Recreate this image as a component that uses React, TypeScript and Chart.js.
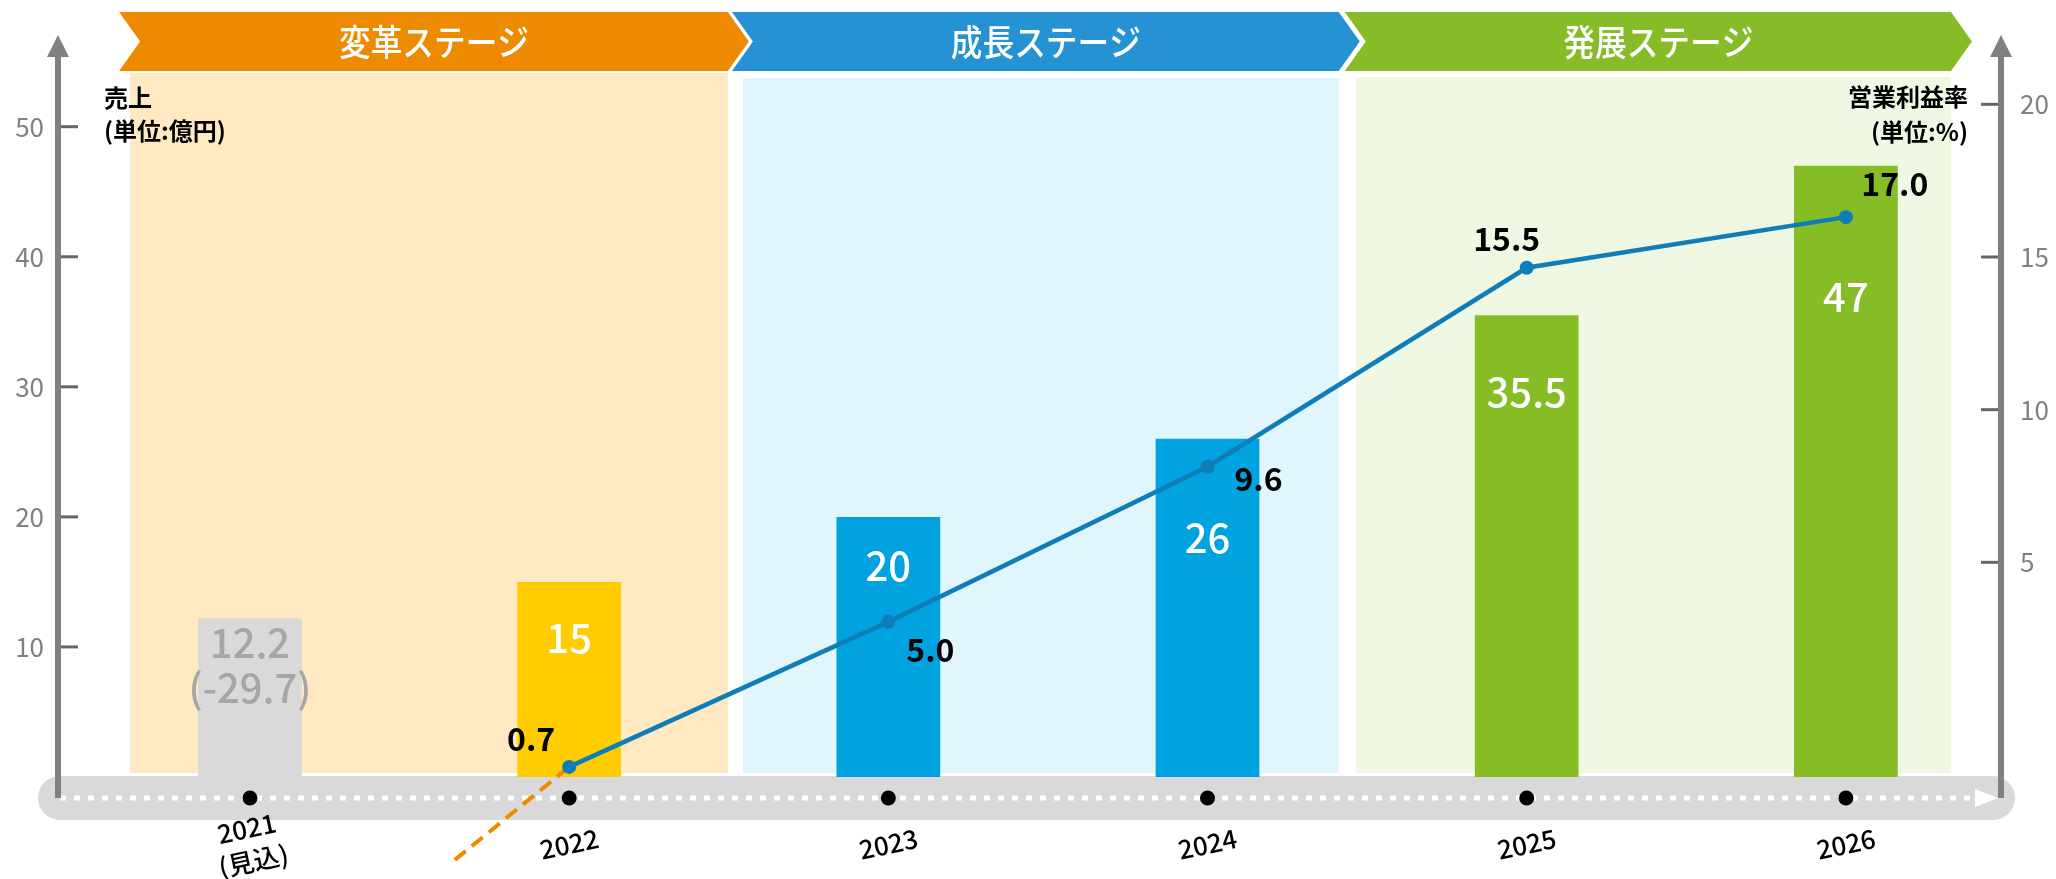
import React, { useEffect, useRef } from 'react';
import { Chart, registerables } from 'chart.js';

Chart.register(...registerables);

const FONT = "'Noto Sans CJK JP', 'Noto Sans', sans-serif";

const categories = ['2021', '2022', '2023', '2024', '2025', '2026'];
const categoryNotes = ['(見込)', '', '', '', '', ''];
const sales = [12.2, 15, 20, 26, 35.5, 47];
const salesLabels = ['12.2', '15', '20', '26', '35.5', '47'];
const salesSubLabels = ['(-29.7)', '', '', '', '', ''];
const margin = [null, 0.7, 5.0, 9.6, 15.5, 17.0];
const marginLabels = ['', '0.7', '5.0', '9.6', '15.5', '17.0'];
const marginTrend = [-7.0, 0.7, null, null, null, null];
const salesTicks = [10, 20, 30, 40, 50];
const marginTicks = [5, 10, 15, 20];
const stageNames = ['変革ステージ', '成長ステージ', '発展ステージ'];

const barColors = ['#D9D9D9', '#FFCC00', '#00A3E0', '#00A3E0', '#86BC25', '#86BC25'];
const barLabelColors = ['#A6A6A6', '#FFFFFF', '#FFFFFF', '#FFFFFF', '#FFFFFF', '#FFFFFF'];

const decorOptions = {
  stageSpans: [[-0.41, 1.563], [1.51, 3.477], [3.43, 5.395]],
  bannerColors: ['#EE8A00', '#2593D3', '#86BC28'],
  panelColors: ['#FEE9C2', '#E1F5FD', '#EFF8E3'],
  panelTops: [73, 78, 77],
  barLabelOffsets: [24, 56, 49, 99, 77, 131],
  lineLabelOffsets: [[0, 0], [-38, -28], [42, 28], [51, 12], [-20, -29], [49, -33]],
};

const decorPlugin = {
  id: 'decor',
  beforeDraw(chart: any) {
    const { ctx, chartArea, scales } = chart;
    const x = scales.x;
    const o = decorOptions;
    ctx.save();
    o.stageSpans.forEach(([a, b], i) => {
      const L = x.getPixelForValue(a);
      const R = x.getPixelForValue(b);
      const top = 12, bot = 71, mid = (top + bot) / 2, d = 21;
      ctx.fillStyle = o.panelColors[i];
      ctx.fillRect(L + 11, o.panelTops[i], R - 21 - (L + 11), chartArea.bottom - 4 - o.panelTops[i]);
      ctx.beginPath();
      ctx.moveTo(L, top);
      ctx.lineTo(R - d, top);
      ctx.lineTo(R, mid);
      ctx.lineTo(R - d, bot);
      ctx.lineTo(L, bot);
      ctx.lineTo(L + d, mid);
      ctx.closePath();
      ctx.fillStyle = o.bannerColors[i];
      ctx.fill();
      ctx.save();
      ctx.translate((L + R) / 2, mid + 1);
      ctx.scale(0.88, 1);
      ctx.fillStyle = '#FFFFFF';
      ctx.font = `500 36px ${FONT}`;
      ctx.textAlign = 'center';
      ctx.textBaseline = 'middle';
      ctx.fillText(stageNames[i], 0, 0);
      ctx.restore();
    });

    const cy = chartArea.bottom + 21;
    const bl = chartArea.left - 20, br = chartArea.right + 14, h = 44, r = 22;
    ctx.fillStyle = '#D9D9D9';
    ctx.beginPath();
    ctx.moveTo(bl + r, cy - h / 2);
    ctx.lineTo(br - r, cy - h / 2);
    ctx.arc(br - r, cy, r, -Math.PI / 2, Math.PI / 2);
    ctx.lineTo(bl + r, cy + h / 2);
    ctx.arc(bl + r, cy, r, Math.PI / 2, Math.PI * 1.5);
    ctx.closePath();
    ctx.fill();

    ctx.strokeStyle = '#FFFFFF';
    ctx.lineWidth = 5;
    ctx.setLineDash([6, 8]);
    ctx.beginPath();
    ctx.moveTo(chartArea.left + 2, cy);
    ctx.lineTo(chartArea.right - 28, cy);
    ctx.stroke();
    ctx.setLineDash([]);
    ctx.fillStyle = '#FFFFFF';
    ctx.beginPath();
    ctx.moveTo(chartArea.right - 26, cy - 9);
    ctx.lineTo(chartArea.right - 3, cy);
    ctx.lineTo(chartArea.right - 26, cy + 9);
    ctx.closePath();
    ctx.fill();

    ctx.fillStyle = '#000000';
    categories.forEach((_, i) => {
      const px = x.getPixelForValue(i);
      ctx.beginPath();
      ctx.ellipse(px, cy, 7.5, 7.5, 0, 0, Math.PI * 2);
      ctx.fill();
    });
    ctx.restore();
  },
  afterDatasetsDraw(chart: any) {
    const { ctx, chartArea, scales } = chart;
    const cy = chartArea.bottom + 21;
    ctx.save();
    [chartArea.left, chartArea.right].forEach((ax) => {
      ctx.strokeStyle = '#808080';
      ctx.lineWidth = 6;
      ctx.beginPath();
      ctx.moveTo(ax, cy);
      ctx.lineTo(ax, chartArea.top + 20);
      ctx.stroke();
      ctx.fillStyle = '#808080';
      ctx.beginPath();
      ctx.moveTo(ax, chartArea.top);
      ctx.lineTo(ax - 11, chartArea.top + 22);
      ctx.lineTo(ax + 11, chartArea.top + 22);
      ctx.closePath();
      ctx.fill();
    });
    ctx.strokeStyle = '#666666';
    ctx.lineWidth = 3;
    salesTicks.forEach((v) => {
      const py = scales.y.getPixelForValue(v);
      ctx.beginPath();
      ctx.moveTo(chartArea.left + 3, py);
      ctx.lineTo(chartArea.left + 20, py);
      ctx.stroke();
    });
    marginTicks.forEach((v) => {
      const py = scales.yR.getPixelForValue(v);
      ctx.beginPath();
      ctx.moveTo(chartArea.right - 20, py);
      ctx.lineTo(chartArea.right - 3, py);
      ctx.stroke();
    });
    ctx.restore();
  },
  afterDraw(chart: any) {
    const { ctx, chartArea, scales } = chart;
    const o = decorOptions;
    ctx.save();
    ctx.textAlign = 'center';
    ctx.textBaseline = 'middle';
    const barMeta = chart.getDatasetMeta(0);
    barMeta.data.forEach((bar: any, i: number) => {
      ctx.fillStyle = barLabelColors[i];
      ctx.font = `500 40px ${FONT}`;
      const y0 = bar.y + o.barLabelOffsets[i];
      ctx.fillText(salesLabels[i], bar.x, y0);
      if (salesSubLabels[i]) ctx.fillText(salesSubLabels[i], bar.x, y0 + 45);
    });
    const lineMeta = chart.getDatasetMeta(2);
    ctx.fillStyle = '#000000';
    ctx.font = `700 32px ${FONT}`;
    lineMeta.data.forEach((pt: any, i: number) => {
      if (!marginLabels[i] || pt.skip) return;
      const [dx, dy] = o.lineLabelOffsets[i];
      ctx.fillText(marginLabels[i], pt.x + dx, pt.y + dy);
    });
    ctx.fillStyle = '#000000';
    ctx.font = `500 26px ${FONT}`;
    categories.forEach((c, i) => {
      const px = scales.x.getPixelForValue(i);
      ctx.save();
      ctx.translate(px, chartArea.bottom + 67);
      ctx.rotate((-12 * Math.PI) / 180);
      if (categoryNotes[i]) {
        ctx.fillText(c, 0, -16);
        ctx.fillText(categoryNotes[i], 0, 17);
      } else {
        ctx.fillText(c, 0, 0);
      }
      ctx.restore();
    });
    ctx.font = `700 24px ${FONT}`;
    ctx.textAlign = 'left';
    ctx.fillText('売上', chartArea.left + 46, 98);
    ctx.fillText('(単位:億円)', chartArea.left + 46, 131);
    ctx.textAlign = 'right';
    ctx.fillText('営業利益率', chartArea.right - 33, 97);
    ctx.fillText('(単位:%)', chartArea.right - 33, 132);
    ctx.restore();
  },
};

export default function App() {
  const ref = useRef<HTMLCanvasElement>(null);
  useEffect(() => {
    document.body.style.margin = '0';
    const chart = new Chart(ref.current as HTMLCanvasElement, {
      type: 'bar',
      data: {
        datasets: [
          {
            type: 'bar',
            label: '売上',
            data: sales.map((v, i) => ({ x: i, y: v })),
            backgroundColor: barColors,
            barPercentage: 0.325,
            categoryPercentage: 1,
            yAxisID: 'y',
            order: 3,
          },
          {
            type: 'line',
            label: 'trend',
            data: marginTrend.map((v, i) => ({ x: i, y: v })),
            borderColor: '#EE8A00',
            borderWidth: 4,
            borderDash: [14, 8],
            pointRadius: 0,
            yAxisID: 'yL',
            clip: { left: 0, top: 0, right: 0, bottom: 85 },
            order: 2,
          },
          {
            type: 'line',
            label: '営業利益率',
            data: margin.map((v, i) => ({ x: i, y: v })),
            borderColor: '#0E7DB8',
            backgroundColor: '#0E7DB8',
            borderWidth: 4.5,
            pointRadius: 7,
            pointBorderWidth: 0,
            pointBackgroundColor: '#0E7DB8',
            tension: 0,
            yAxisID: 'yL',
            order: 1,
          },
        ] as any,
      },
      options: {
        responsive: false,
        animation: false,
        devicePixelRatio: 1,
        layout: { padding: { top: 35, bottom: 102, left: 0, right: 0 } },
        plugins: { legend: { display: false }, tooltip: { enabled: false } },
        scales: {
          x: {
            type: 'linear',
            display: false,
            offset: false,
            min: -0.6015,
            max: 5.486,
            grid: { offset: false },
            afterBuildTicks: (s: any) => {
              s.ticks = categories.map((_, i) => ({ value: i }));
            },
          },
          y: {
            position: 'left',
            min: 0,
            max: 57.05,
            grid: { display: false, drawTicks: false },
            border: { display: false },
            afterBuildTicks: (s: any) => {
              s.ticks = salesTicks.map((v) => ({ value: v }));
            },
            afterFit: (s: any) => {
              s.width = 58;
            },
            ticks: { padding: 14, color: '#808080', font: { family: FONT, size: 26 } },
          },
          yR: {
            position: 'right',
            min: -2.03,
            max: 22.27,
            grid: { display: false, drawTicks: false },
            border: { display: false },
            afterBuildTicks: (s: any) => {
              s.ticks = marginTicks.map((v) => ({ value: v }));
            },
            afterFit: (s: any) => {
              s.width = 55;
            },
            ticks: { padding: 19, color: '#808080', font: { family: FONT, size: 26 } },
          },
          yL: {
            position: 'right',
            display: false,
            min: 0.4,
            max: 22.4,
          },
        } as any,
      },
      plugins: [decorPlugin],
    });
    return () => chart.destroy();
  }, []);
  return (
    <div style={{ width: 2056, height: 879 }}>
      <canvas ref={ref} width={2056} height={879} style={{ display: 'block', width: 2056, height: 879 }} />
    </div>
  );
}
